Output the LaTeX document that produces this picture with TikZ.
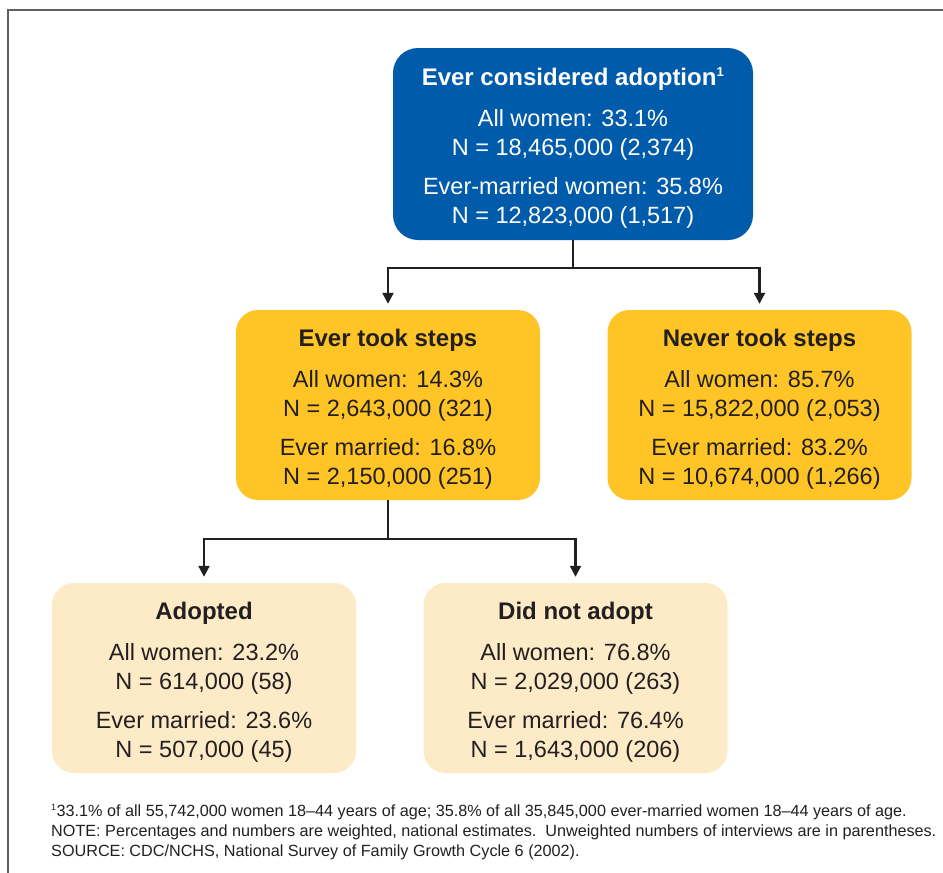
\documentclass[tikz,border=0pt]{standalone}
\usepackage{fontspec}
\setmainfont{Liberation Sans}
\usetikzlibrary{arrows.meta}
\definecolor{cdcblue}{HTML}{005BAA}
\definecolor{cdcyellow}{HTML}{FFC425}
\definecolor{cdclight}{HTML}{FDEBC8}
\definecolor{ink}{HTML}{231F20}
\definecolor{framegray}{HTML}{606060}
\newcommand{\ttlfont}{\fontsize{24}{29}\selectfont\bfseries\rule{0pt}{26pt}}
\begin{document}
\begin{tikzpicture}[x=1pt,y=-1pt,
  box/.style={rectangle, rounded corners=22pt, align=center, inner sep=0pt,
    minimum width=304pt, minimum height=190pt,
    font=\fontsize{23.5}{29}\selectfont, text=ink},
  topbox/.style={box, fill=cdcblue, text=white, minimum width=360pt, minimum height=192pt, rounded corners=25pt},
  midbox/.style={box, fill=cdcyellow},
  lowbox/.style={box, fill=cdclight},
  conn/.style={draw=ink, line width=2.2pt},
  arr/.style={conn, -{Triangle[width=11pt,length=11pt]}, shorten >=6pt}
]
\useasboundingbox (0,0) rectangle (943,873);
\draw[framegray, line width=2pt] (943,10) -- (8,10) -- (8,873);

\node[topbox] (top) at (573,144) {{\ttlfont Ever considered adoption\textsuperscript{\fontsize{13}{13}\selectfont 1}}\\[12pt]
All women: 33.1\%\\
N = 18,465,000 (2,374)\\[10pt]
Ever-married women: 35.8\%\\
N = 12,823,000 (1,517)};

\node[midbox] (steps) at (388,405) {{\ttlfont Ever took steps}\\[12pt]
All women: 14.3\%\\
N = 2,643,000 (321)\\[10pt]
Ever married: 16.8\%\\
N = 2,150,000 (251)};

\node[midbox] (never) at (759.5,405) {{\ttlfont Never took steps}\\[12pt]
All women: 85.7\%\\
N = 15,822,000 (2,053)\\[10pt]
Ever married: 83.2\%\\
N = 10,674,000 (1,266)};

\node[lowbox] (adopted) at (204,678) {{\ttlfont Adopted}\\[12pt]
All women: 23.2\%\\
N = 614,000 (58)\\[10pt]
Ever married: 23.6\%\\
N = 507,000 (45)};

\node[lowbox] (notadopt) at (575.5,678) {{\ttlfont Did not adopt}\\[12pt]
All women: 76.8\%\\
N = 2,029,000 (263)\\[10pt]
Ever married: 76.4\%\\
N = 1,643,000 (206)};

\coordinate (j1) at (573,268);
\coordinate (j2) at (388,539);
\draw[conn] (top.south) -- (j1);
\draw[arr] (j1) -| (steps.north);
\draw[arr] (j1) -| (never.north);
\draw[conn] (steps.south) -- (j2);
\draw[arr] (j2) -| (adopted.north);
\draw[arr] (j2) -| (notadopt.north);

\node[anchor=base west, inner sep=0pt, align=left, text=ink, font=\fontsize{16.2}{19.7}\selectfont] (foot) at (51,856)
{\textsuperscript{\fontsize{9}{9}\selectfont 1}33.1\% of all 55,742,000 women 18--44 years of age; 35.8\% of all 35,845,000 ever-married women 18--44 years of age.\\
NOTE: Percentages and numbers are weighted, national estimates.\ \ Unweighted numbers of interviews are in parentheses.\\
SOURCE: CDC/NCHS, National Survey of Family Growth Cycle 6 (2002).};
\end{tikzpicture}
\end{document}
